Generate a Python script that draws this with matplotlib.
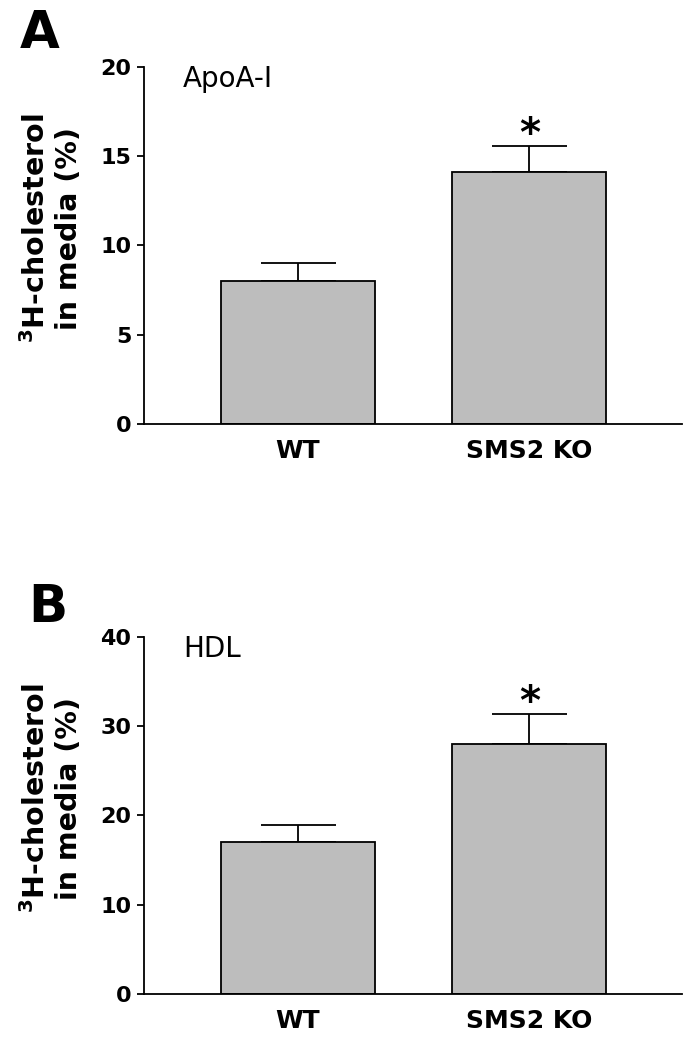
import matplotlib
matplotlib.use("Agg")
import matplotlib.pyplot as plt

categories = ["WT", "SMS2 KO"]
apoa_means = [8.0, 14.1]
apoa_err = [1.0, 1.45]
hdl_means = [17.0, 28.0]
hdl_err = [1.9, 3.3]
yticks_a = [0, 5, 10, 15, 20]
yticks_b = [0, 10, 20, 30, 40]
sig = ["", "*"]

plt.rcParams['font.family'] = ['DejaVu Sans']

W, H = 692, 1042
fig = plt.figure(figsize=(W / 100, H / 100), dpi=100)

def px_axes(left, top, right, bottom):
    return fig.add_axes([left / W, 1 - bottom / H, (right - left) / W, (bottom - top) / H])

axA = px_axes(144, 66.7, 682, 424)
axB = px_axes(144, 636.7, 682, 994)

def draw(ax, means, errs, yticks, title):
    x = list(range(len(categories)))
    ax.bar(x, means, width=0.665, color='#bdbdbd', edgecolor='black', linewidth=1.3, zorder=2)
    ax.errorbar(x, means, yerr=[[0] * len(errs), errs], fmt='none', ecolor='black',
                elinewidth=1.3, capsize=27, capthick=1.3, zorder=1)
    for xi, m, e, s in zip(x, means, errs, sig):
        if s:
            ax.annotate(s, (xi, m + e), xytext=(0, -6), textcoords='offset points',
                        ha='center', va='bottom', fontsize=29, fontweight='bold')
    ax.set_xlim(-0.665, 1.66)
    ax.set_ylim(yticks[0], yticks[-1])
    ax.set_yticks(yticks)
    ax.set_xticks(x)
    ax.set_xticklabels(categories, fontsize=18, fontweight='bold')
    for lab in ax.get_yticklabels():
        lab.set_fontweight('bold')
        lab.set_fontsize(16)
    ax.tick_params(axis='x', length=0, pad=11)
    ax.tick_params(axis='y', length=5, width=1.3, pad=4)
    for sp in ['top', 'right']:
        ax.spines[sp].set_visible(False)
    for sp in ['left', 'bottom']:
        ax.spines[sp].set_linewidth(1.3)
    ax.text(0.0725, 0.942, title, transform=ax.transAxes, fontsize=20, ha='left', va='baseline')
    ax.text(-0.171, 0.548, r'$^{\mathbf{3}}$H-cholesterol' + '\n' + 'in media (%)',
            transform=ax.transAxes, rotation=90, ha='center', va='center',
            multialignment='center', fontsize=20.5, fontweight='bold', linespacing=1.2)

draw(axA, apoa_means, apoa_err, yticks_a, 'ApoA-I')
draw(axB, hdl_means, hdl_err, yticks_b, 'HDL')

fig.text(20 / W, 1 - 48 / H, 'A', fontsize=37, fontweight='bold', ha='left', va='baseline')
fig.text(28 / W, 1 - 622 / H, 'B', fontsize=37, fontweight='bold', ha='left', va='baseline')

fig.savefig('out.png', dpi=100)
